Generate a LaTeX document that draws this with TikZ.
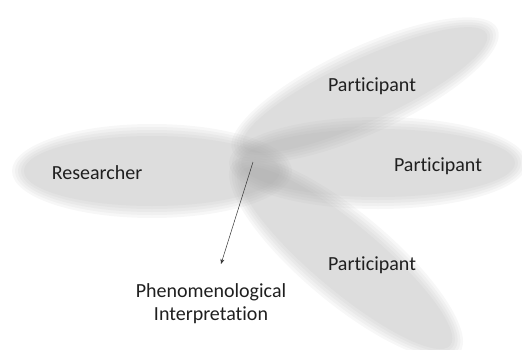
\documentclass[tikz,border=0pt]{standalone}
\usepackage{fontspec}
\setmainfont{Carlito}[Ligatures={NoCommon}]
\usetikzlibrary{arrows.meta}
\tikzset{
  blob/.style={fill=black!37, fill opacity=0.088},
  lbl/.style={text=black!88, font=\fontsize{20}{23}\selectfont, align=center}
}
% soft ellipse: x, y, x radius, y radius, angle
\newcommand{\softblob}[5]{%
  \foreach \k in {0,...,4}
    \fill[blob, rotate around={#5:(#1,#2)}] (#1,#2)
      ellipse [x radius={(#3+6-3*\k)*1pt}, y radius={(#4+6-3*\k)*1pt}];
}
\begin{document}
\begin{tikzpicture}[x=1pt,y=1pt]
            \useasboundingbox (0,0) rectangle (522,349);

            % Ellipses
            \softblob{152}{178}{134}{41}{0}
            \softblob{378}{186}{143}{40}{0}
            \softblob{365}{259}{140}{37}{24.8}
            \softblob{346}{91}{142}{39}{-40}

            % Labels
            \node[lbl] (res) at (97,176) {Researcher};
            \node[lbl] (part1) at (372,263) {Participant};
            \node[lbl] (part2) at (438,183) {Participant};
            \node[lbl] (part3) at (372,84) {Participant};
            \node[lbl] (interp) at (211,45) {Phenomenological\\Interpretation};

            % Arrow from the overlap
            \coordinate (core) at (253,187);
            \coordinate (tip) at (221,85);
            \draw[-{Stealth[length=5pt,width=4pt]}, black!80, line width=0.5pt] (core) -- (tip);
        \end{tikzpicture}
\end{document}
